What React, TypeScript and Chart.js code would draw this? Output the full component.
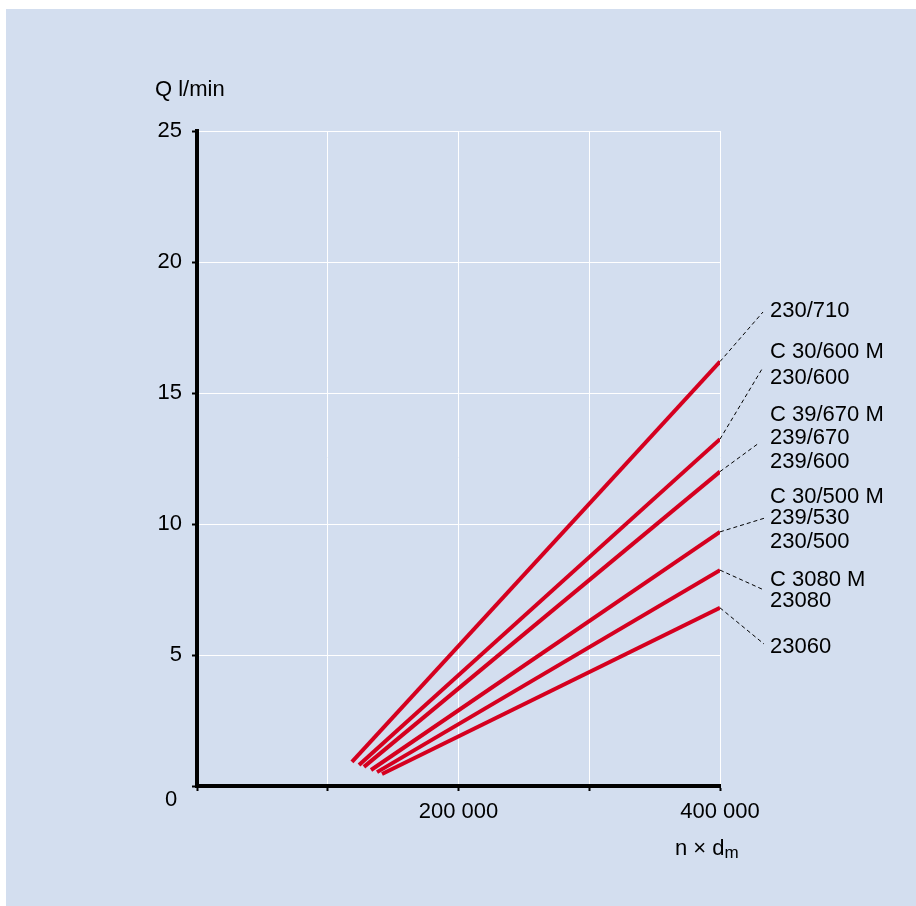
import React, { useEffect, useRef } from "react";
import { Chart, registerables } from "chart.js";

Chart.register(...registerables);

// ---- data ----
const seriesNames = ["230/710", "230/600", "239/600", "230/500", "23080", "23060"];
const xStart = [118500, 123900, 127700, 133100, 137700, 141500];
const yStart = [0.92, 0.8, 0.73, 0.61, 0.53, 0.46];
const xEnd = [400000, 400000, 400000, 400000, 400000, 400000];
const yEnd = [16.2, 13.24, 12.0, 9.7, 8.24, 6.8];
const labelTexts = [
  ["230/710"],
  ["C 30/600 M", "230/600"],
  ["C 39/670 M", "239/670", "239/600"],
  ["C 30/500 M", "239/530", "230/500"],
  ["C 3080 M", "23080"],
  ["23060"],
];
const xTickLabels: Record<number, string> = { 200000: "200 000", 400000: "400 000" };
const yTicksShown = [5, 10, 15, 20, 25];

// ---- layout (pixel positions of annotations) ----
const leaderEnds = [
  [763, 312],
  [762, 369],
  [759, 443],
  [765, 518],
  [764, 590],
  [764, 644],
];
const labelYs = [[311], [352, 378], [415, 438, 462], [497, 518, 542], [580, 601], [647]];
const LABEL_X = 770;
const FONT = '"Liberation Sans", Arial, Helvetica, sans-serif';
const RED = "#d5001f";
const PANEL = "#d3deef";

const decorPlugin = {
  id: "decor",
  beforeDraw(chart: any) {
    const ctx = chart.ctx;
    ctx.save();
    ctx.fillStyle = "#ffffff";
    ctx.fillRect(0, 0, chart.width, chart.height);
    ctx.fillStyle = PANEL;
    ctx.fillRect(6, 9, chart.width - 6, chart.height - 9);
    ctx.restore();
  },
  afterDraw(chart: any) {
    const ctx = chart.ctx;
    const xs = chart.scales.x;
    const ys = chart.scales.y;
    ctx.save();
    // leaders
    ctx.strokeStyle = "#000";
    ctx.lineWidth = 1;
    ctx.setLineDash([4, 3]);
    for (let i = 0; i < seriesNames.length; i++) {
      const px = xs.getPixelForValue(xEnd[i]);
      const py = ys.getPixelForValue(yEnd[i]);
      ctx.beginPath();
      ctx.moveTo(px, py);
      ctx.lineTo(leaderEnds[i][0], leaderEnds[i][1]);
      ctx.stroke();
    }
    ctx.setLineDash([]);
    // labels
    ctx.fillStyle = "#000";
    ctx.font = `22px ${FONT}`;
    ctx.textBaseline = "middle";
    ctx.textAlign = "left";
    labelTexts.forEach((lines, i) => {
      lines.forEach((t, j) => ctx.fillText(t, LABEL_X, labelYs[i][j]));
    });
    // axis titles
    ctx.fillText("Q l/min", 155, 90);
    ctx.textBaseline = "alphabetic";
    const base = 855;
    const t1 = "n × d";
    ctx.fillText(t1, 675, base);
    const w = ctx.measureText(t1).width;
    ctx.font = `17px ${FONT}`;
    ctx.fillText("m", 675 + w, base + 3);
    // zero label
    ctx.font = `22px ${FONT}`;
    ctx.textAlign = "center";
    ctx.textBaseline = "middle";
    ctx.fillText("0", xs.getPixelForValue(0) - 26, ys.getPixelForValue(0) + 14);
    ctx.restore();
  },
};

export default function App() {
  const ref = useRef<HTMLCanvasElement | null>(null);
  useEffect(() => {
    if (!ref.current) return;
    const datasets = seriesNames.map((name, i) => ({
      label: name,
      data: [
        { x: xStart[i], y: yStart[i] },
        { x: xEnd[i], y: yEnd[i] },
      ],
      showLine: true,
      borderColor: RED,
      backgroundColor: RED,
      borderWidth: 4,
      pointRadius: 0,
      borderCapStyle: "butt" as const,
    }));
    const chart = new Chart(ref.current, {
      type: "scatter",
      data: { datasets },
      plugins: [decorPlugin],
      options: {
        responsive: false,
        animation: false,
        devicePixelRatio: 1,
        layout: { padding: { left: 0, right: 196, top: 131, bottom: 0 } },
        plugins: { legend: { display: false }, tooltip: { enabled: false } },
        scales: {
          x: {
            type: "linear",
            min: 0,
            max: 400000,
            afterFit: (s: any) => {
              s.height = 120;
            },
            ticks: {
              stepSize: 100000,
              autoSkip: false,
              maxRotation: 0,
              padding: 8,
              color: "#000",
              font: { family: FONT, size: 22 },
              callback: (v: any) => xTickLabels[Number(v)] ?? "",
            },
            grid: {
              color: "#ffffff",
              lineWidth: 1,
              tickColor: "#000",
              tickLength: 5,
              tickWidth: 2,
            },
            border: { color: "#000", width: 4 },
          },
          y: {
            type: "linear",
            min: 0,
            max: 25,
            afterFit: (s: any) => {
              s.width = 197;
            },
            ticks: {
              stepSize: 5,
              padding: 10,
              color: "#000",
              font: { family: FONT, size: 22 },
              callback: (v: any) => (yTicksShown.includes(Number(v)) ? String(v) : ""),
            },
            grid: {
              color: "#ffffff",
              lineWidth: 1,
              tickColor: "#000",
              tickLength: 5,
              tickWidth: 2,
            },
            border: { color: "#000", width: 4 },
          },
        },
      },
    });
    return () => chart.destroy();
  }, []);
  return (
    <div style={{ position: "fixed", left: 0, top: 0 }}>
      <canvas ref={ref} width={916} height={906} style={{ display: "block" }} />
    </div>
  );
}
